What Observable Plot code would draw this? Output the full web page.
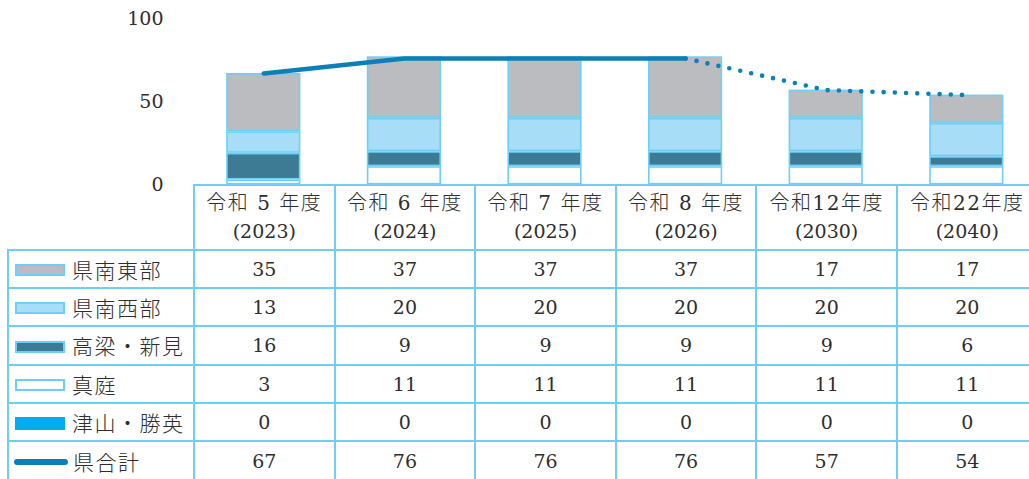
<!DOCTYPE html>
<html>
<head>
<meta charset="utf-8">
<script src="https://cdn.jsdelivr.net/npm/d3@7"></script>
<script src="https://cdn.jsdelivr.net/npm/@observablehq/plot@0.6"></script>
<style>
  html, body { margin: 0; padding: 0; background: #fff; overflow: hidden; width: 1029px; height: 479px; }
  #wrap { position: relative; width: 1029px; height: 479px; overflow: hidden; }
  #chart { position: absolute; left: 0; top: 0; }
  table { position: absolute; left: 7px; top: 183.5px; width: 1030px; border-collapse: collapse; table-layout: fixed;
          font-family: "DejaVu Serif", "Noto Sans CJK JP", serif; color: #2e2e2e; }
  td { border: 2px solid #6dcff6; padding: 0; text-align: center; font-size: 19px; white-space: nowrap; overflow: hidden; }
  tr.head td { height: 63px; line-height: 28px; }
  tr.head td.blank { border-top: none; border-left: none; }
  tr.row td { height: 36.4px; line-height: 36px; }
  .era { font-size: 20px; letter-spacing: 1.5px; font-weight: 300; }
  td.name { text-align: left; font-family: "Noto Sans CJK JP", sans-serif; font-size: 21px; letter-spacing: 1.5px; font-weight: 300; }
  .sw { display: inline-block; vertical-align: middle; width: 46px; height: 8px; border: 2px solid #6dcff6;
        margin-left: 6px; margin-right: 7px; position: relative; top: -2px; }
  .sw.flat { border: none; width: 50px; height: 13px; }
  .sw.ln { border: none; width: 54px; height: 6px; border-radius: 3px; margin-left: 5px; margin-right: 5px; }
</style>
</head>
<body>
<div id="wrap">
  <div id="chart"></div>
  <table id="tbl"></table>
</div>
<script>
// ---- data ----
const years = ["2023", "2024", "2025", "2026", "2030", "2040"];
const eras = ["令和 5 年度", "令和 6 年度", "令和 7 年度", "令和 8 年度", "令和12年度", "令和22年度"];
const seriesNames = ["県南東部", "県南西部", "高梁・新見", "真庭", "津山・勝英"];
const kennanTobu = [35, 37, 37, 37, 17, 17];
const kennanSeibu = [13, 20, 20, 20, 20, 20];
const takahashiNiimi = [16, 9, 9, 9, 9, 6];
const maniwa = [3, 11, 11, 11, 11, 11];
const tsuyamaShoei = [0, 0, 0, 0, 0, 0];
const totalName = "県合計";
const total = [67, 76, 76, 76, 57, 54];
const yTicks = [0, 50, 100];

// ---- styles ----
const seriesValues = [kennanTobu, kennanSeibu, takahashiNiimi, maniwa, tsuyamaShoei];
const seriesColors = ["#bbbcbf", "#a8ddf7", "#3d7a93", "#ffffff", "#00aeef"];
const stackOrder = ["真庭", "高梁・新見", "県南西部", "県南東部", "津山・勝英"];
const lineColor = "#0a80b6";
const borderColor = "#6dcff6";

const rows = [];
years.forEach((yr, i) => {
  seriesNames.forEach((s, j) => rows.push({year: yr, series: s, value: seriesValues[j][i]}));
});
const totals = years.map((yr, i) => ({year: yr, value: total[i]}));
const solidPart = totals.slice(0, 4);
const dottedPart = totals.slice(3);

const chart = Plot.plot({
  width: 1029,
  height: 186,
  marginLeft: 193,
  marginRight: 0,
  marginTop: 18,
  marginBottom: 1.5,
  x: {domain: years, range: [193, 1036.6], padding: 0, round: false, axis: null},
  y: {domain: [0, 100], range: [184.5, 18]},
  color: {domain: seriesNames, range: seriesColors},
  style: {fontFamily: "DejaVu Serif", fontSize: "19px", color: "#2e2e2e", background: "transparent", overflow: "visible"},
  marks: [
    Plot.axisY({ticks: yTicks, tickSize: 0, tickPadding: 30, label: null, fontSize: 19}),
    Plot.barY(rows.filter(d => d.value > 0), {
      x: "year", y: "value", fill: "series", order: stackOrder,
      stroke: borderColor, strokeWidth: 1.6, insetLeft: 34, insetRight: 34, insetTop: 0.8, insetBottom: 0.8
    }),
    Plot.line(solidPart, {x: "year", y: "value", stroke: lineColor, strokeWidth: 4.5, strokeLinecap: "round"}),
    Plot.line(dottedPart, {x: "year", y: "value", stroke: lineColor, strokeWidth: 4.6, strokeLinecap: "round", strokeDasharray: "0 11.2"})
  ]
});
document.getElementById("chart").appendChild(chart);

// ---- table ----
const tbl = document.getElementById("tbl");
const colW = 140.6;
let html = '<colgroup><col style="width:186px">' + years.map(() => `<col style="width:${colW}px">`).join("") + '</colgroup>';
html += '<tr class="head"><td class="blank"></td>' + years.map((y, i) => `<td><span class="era">${eras[i]}</span><br>(${y})</td>`).join("") + '</tr>';
seriesNames.forEach((s, j) => {
  const c = seriesColors[j];
  const sw = j === 4 ? `<span class="sw flat" style="background:${c}"></span>` : `<span class="sw" style="background:${c}"></span>`;
  html += `<tr class="row"><td class="name">${sw}${s}</td>` + seriesValues[j].map(v => `<td>${v}</td>`).join("") + '</tr>';
});
html += `<tr class="row"><td class="name"><span class="sw ln" style="background:${lineColor}"></span>${totalName}</td>` + total.map(v => `<td>${v}</td>`).join("") + '</tr>';
tbl.innerHTML = html;
</script>
</body>
</html>
